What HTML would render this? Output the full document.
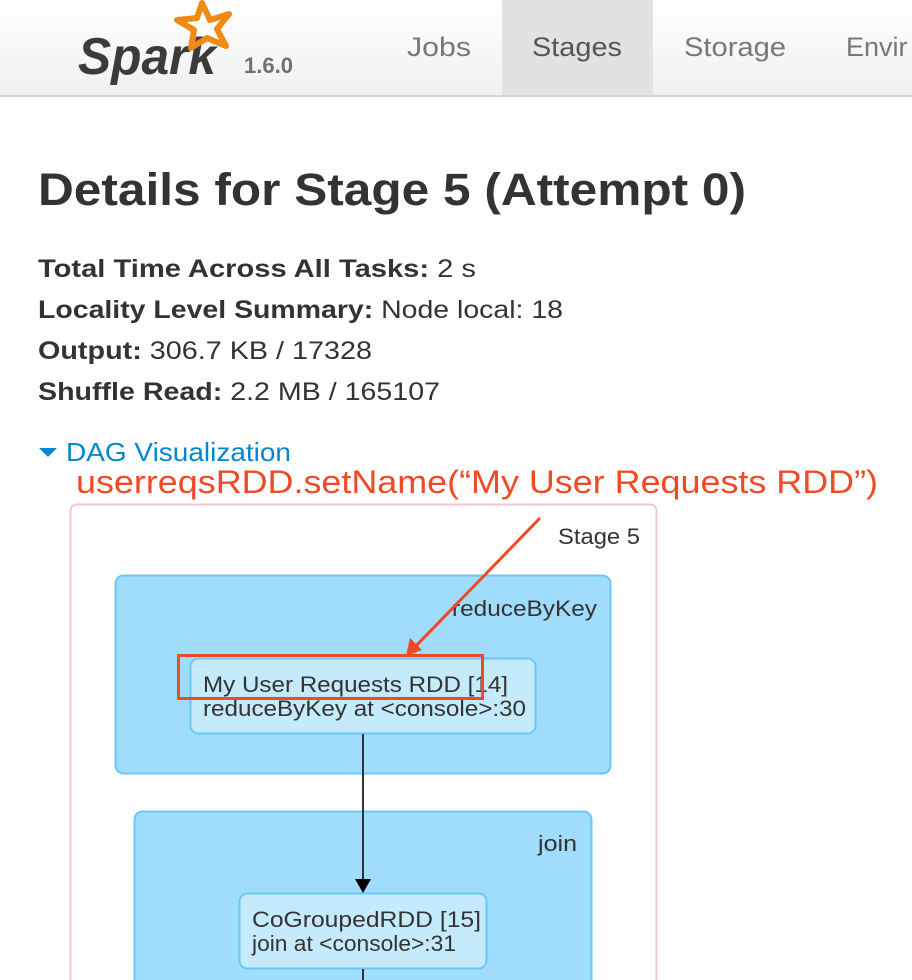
<!DOCTYPE html>
<html><head><meta charset="utf-8"><style>
html,body{margin:0;padding:0;background:#fff;}
svg{display:block;font-family:"Liberation Sans",sans-serif;}
</style></head><body>
<svg width="912" height="980" viewBox="0 0 912 980" xmlns="http://www.w3.org/2000/svg">
<defs>
<linearGradient id="nav" x1="0" y1="0" x2="0" y2="1"><stop offset="0" stop-color="#ffffff"/><stop offset="1" stop-color="#f0f0f0"/></linearGradient>
</defs>
<rect x="0" y="0" width="912" height="96" fill="url(#nav)"/>
<rect x="502" y="0" width="151" height="96" fill="#e2e2e2"/>
<rect x="0" y="95" width="912" height="2" fill="#d6d6d6"/>
<!-- logo -->
<text x="78" y="74" font-size="52" font-style="italic" font-weight="bold" fill="#3d3a3a" textLength="138" lengthAdjust="spacingAndGlyphs">Spark</text>
<path d="M202,3 L210,20 L229,14 L217,29 L226,46 L207,38 L191,48 L194,30 L177,20 L197,18 Z" fill="none" stroke="#f08a12" stroke-width="6" stroke-linejoin="round"/>
<text x="244" y="73" font-size="22" font-weight="bold" fill="#6f6f6f">1.6.0</text>
<g font-size="27" fill="#777">
<text x="407" y="56" textLength="64" lengthAdjust="spacingAndGlyphs">Jobs</text>
<text x="532" y="56" fill="#555" textLength="90" lengthAdjust="spacingAndGlyphs">Stages</text>
<text x="684" y="56" textLength="102" lengthAdjust="spacingAndGlyphs">Storage</text>
<text x="846" y="56">Envir</text>
</g>
<text x="38" y="205" font-size="45" font-weight="bold" fill="#333" textLength="708" lengthAdjust="spacingAndGlyphs">Details for Stage 5 (Attempt 0)</text>
<g font-size="25" fill="#333">
<text x="38" y="277" textLength="438" lengthAdjust="spacingAndGlyphs"><tspan font-weight="bold">Total Time Across All Tasks:</tspan> 2 s</text>
<text x="38" y="318" textLength="525" lengthAdjust="spacingAndGlyphs"><tspan font-weight="bold">Locality Level Summary:</tspan> Node local: 18</text>
<text x="38" y="359" textLength="334" lengthAdjust="spacingAndGlyphs"><tspan font-weight="bold">Output:</tspan> 306.7 KB / 17328</text>
<text x="38" y="400" textLength="402" lengthAdjust="spacingAndGlyphs"><tspan font-weight="bold">Shuffle Read:</tspan> 2.2 MB / 165107</text>
</g>
<path d="M39,448 L57,448 L48,457 Z" fill="#0088cc"/>
<text x="66" y="461" font-size="26" fill="#0088cc" textLength="225" lengthAdjust="spacingAndGlyphs">DAG Visualization</text>
<text x="76" y="493" font-size="32" fill="#f04a24" textLength="802" lengthAdjust="spacingAndGlyphs">userreqsRDD.setName(“My User Requests RDD”)</text>
<!-- stage box -->
<rect x="70.5" y="504.5" width="586" height="500" rx="6" fill="#fff" stroke="#f8c4cc" stroke-width="2"/>
<text x="558" y="544" font-size="22" fill="#333" textLength="82" lengthAdjust="spacingAndGlyphs">Stage 5</text>
<rect x="115.5" y="575.5" width="495" height="198" rx="8" fill="#a0dcfb" stroke="#6ac8f5" stroke-width="2"/>
<text x="452" y="616" font-size="22" fill="#333" textLength="145" lengthAdjust="spacingAndGlyphs">reduceByKey</text>
<rect x="190.5" y="658.5" width="345" height="75" rx="8" fill="#c4eafc" stroke="#6ac8f5" stroke-width="2"/>
<text x="203" y="692" font-size="22" fill="#333" textLength="305" lengthAdjust="spacingAndGlyphs">My User Requests RDD [14]</text>
<text x="203" y="716" font-size="22" fill="#333" textLength="323" lengthAdjust="spacingAndGlyphs">reduceByKey at &lt;console&gt;:30</text>
<rect x="134.5" y="811.5" width="457" height="200" rx="8" fill="#a0dcfb" stroke="#6ac8f5" stroke-width="2"/>
<text x="538" y="851" font-size="22" fill="#333" textLength="39" lengthAdjust="spacingAndGlyphs">join</text>
<rect x="239.5" y="893.5" width="247" height="75" rx="8" fill="#c4eafc" stroke="#6ac8f5" stroke-width="2"/>
<text x="252" y="927" font-size="22" fill="#333" textLength="229" lengthAdjust="spacingAndGlyphs">CoGroupedRDD [15]</text>
<text x="252" y="951" font-size="22" fill="#333" textLength="204" lengthAdjust="spacingAndGlyphs">join at &lt;console&gt;:31</text>
<line x1="363" y1="734" x2="363" y2="880" stroke="#333" stroke-width="2"/>
<path d="M355,879 L371,879 L363,893 Z" fill="#000"/>
<line x1="363" y1="969" x2="363" y2="980" stroke="#333" stroke-width="2"/>
<!-- annotations -->
<rect x="178.5" y="655.5" width="304" height="43" fill="none" stroke="#f04a24" stroke-width="3"/>
<line x1="540" y1="518" x2="414" y2="648" stroke="#f04a24" stroke-width="3"/>
<path d="M406,656 L410,638 L422,650 Z" fill="#f04a24"/>
</svg>
</body></html>
